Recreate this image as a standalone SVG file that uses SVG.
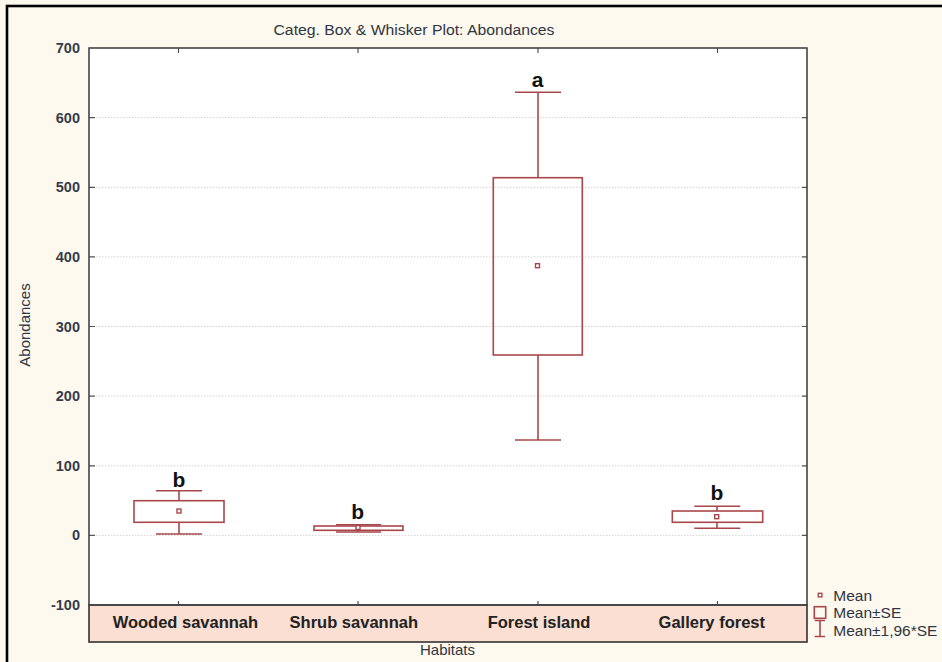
<svg xmlns="http://www.w3.org/2000/svg" width="942" height="662" viewBox="0 0 942 662">
<style>
.t{font-family:"Liberation Sans",Arial,sans-serif;fill:#2f3542}
.ax{font-size:14.5px;font-weight:bold;text-anchor:end;fill:#353b4a}
.cat{font-family:"Liberation Sans",Arial,sans-serif;font-size:16.5px;font-weight:bold;fill:#222;text-anchor:middle}
.let{font-family:"Liberation Sans",Arial,sans-serif;font-size:21px;font-weight:bold;fill:#111;text-anchor:middle}
.grid{stroke:#d4d4d4;stroke-width:1;stroke-dasharray:1.5 1.5;fill:none}
.tick{stroke:#555;stroke-width:1.2}
.bx{fill:none;stroke:#a8474b;stroke-width:1.6}
.mn{fill:#fff;stroke:#a8474b;stroke-width:1.4}
</style>
<rect x="0" y="0" width="942" height="662" fill="#fef9ee"/>
<rect x="7" y="6" width="950" height="670" fill="none" stroke="#000" stroke-width="2.6"/>
<text class="t" x="414" y="35" font-size="14" text-anchor="middle" textLength="281" lengthAdjust="spacingAndGlyphs">Categ. Box &amp; Whisker Plot: Abondances</text>
<g id="plot">
<rect x="89" y="48" width="718" height="557" fill="#fff"/>
<g id="grid">
<line class="grid" x1="90" y1="117.6" x2="806" y2="117.6"/>
<line class="grid" x1="90" y1="187.3" x2="806" y2="187.3"/>
<line class="grid" x1="90" y1="256.9" x2="806" y2="256.9"/>
<line class="grid" x1="90" y1="326.5" x2="806" y2="326.5"/>
<line class="grid" x1="90" y1="396.1" x2="806" y2="396.1"/>
<line class="grid" x1="90" y1="465.8" x2="806" y2="465.8"/>
<line class="grid" x1="90" y1="535.4" x2="806" y2="535.4"/>
</g>
<g id="ticks">
<path class="tick" d="M89 117.6h6M89 187.3h6M89 256.9h6M89 326.5h6M89 396.1h6M89 465.8h6M89 535.4h6"/>
<path class="tick" d="M807 117.6h-5M807 187.3h-5M807 256.9h-5M807 326.5h-5M807 396.1h-5M807 465.8h-5M807 535.4h-5"/>
<path class="tick" d="M178.5 48v5M358 48v5M538 48v5M717.5 48v5"/>
<path class="tick" d="M178.5 605v-4M358 605v-4M538 605v-4M717.5 605v-4"/>
</g>
<rect id="catband" x="89" y="605" width="718" height="37" fill="#fadfd2" stroke="#333" stroke-width="1.6"/>
<rect x="89" y="48" width="718" height="557" fill="none" stroke="#444" stroke-width="1.6"/>
</g>
<g id="yaxis">
<text class="t ax" x="80" y="53">700</text>
<text class="t ax" x="80" y="122.6">600</text>
<text class="t ax" x="80" y="192.3">500</text>
<text class="t ax" x="80" y="261.9">400</text>
<text class="t ax" x="80" y="331.5">300</text>
<text class="t ax" x="80" y="401.1">200</text>
<text class="t ax" x="80" y="470.8">100</text>
<text class="t ax" x="80" y="540.4">0</text>
<text class="t ax" x="80" y="610">-100</text>
<text class="t" x="0" y="0" font-size="15" text-anchor="middle" transform="translate(30 325) rotate(-90)">Abondances</text>
</g>
<g id="xaxis">
<text class="cat" x="185.4" y="628">Wooded savannah</text>
<text class="cat" x="353.8" y="628">Shrub savannah</text>
<text class="cat" x="539" y="628">Forest island</text>
<text class="cat" x="711.8" y="628">Gallery forest</text>
<text class="t" x="447.5" y="655" font-size="15" text-anchor="middle">Habitats</text>
</g>
<g id="connectors">
<path class="bx" d="M179 500.7V490.7M156 490.7H202M179 522.3V534M156 534H202"/>
<path class="bx" d="M358 526V524.7M336 524.7H381M358 530.3V532M336 532H381"/>
<path class="bx" d="M538 177.7V92.3M515 92.3H561M538 355V440M515 440H561"/>
<path class="bx" d="M717 511V506.3M694.3 506.3H740.3M717 522.3V528.3M694.3 528.3H740.3"/>
</g>
<g id="wooded">
<rect class="bx" x="134" y="500.7" width="90" height="21.6"/>
<rect class="mn" x="177" y="509" width="4" height="4"/>
<text class="let" x="179" y="487">b</text>
</g>
<g id="shrub">
<rect class="bx" x="314" y="526" width="89" height="4.3"/>
<rect class="mn" x="356" y="525.5" width="4" height="4"/>
<text class="let" x="357.7" y="519">b</text>
</g>
<g id="forest">
<rect class="bx" x="493.3" y="177.7" width="89" height="177.3"/>
<rect class="mn" x="535.5" y="263.7" width="4" height="4"/>
<text class="let" x="537.5" y="87">a</text>
</g>
<g id="gallery">
<rect class="bx" x="672.3" y="511" width="90.4" height="11.3"/>
<rect class="mn" x="714.7" y="514.7" width="4" height="4"/>
<text class="let" x="717" y="500">b</text>
</g>
<g id="legend">
<rect class="mn" x="818.3" y="593.3" width="3.6" height="3.6"/>
<text class="t" x="833.3" y="601" font-size="15.5">Mean</text>
<rect class="bx" x="814.3" y="606.7" width="11.4" height="11.6"/>
<text class="t" x="833.3" y="618" font-size="15.5">Mean±SE</text>
<path class="bx" d="M814.7 620.5H825M820 620.5V636.5M814.7 636.5H825"/>
<text class="t" x="833.3" y="636" font-size="15.5">Mean±1,96*SE</text>
</g>
</svg>
